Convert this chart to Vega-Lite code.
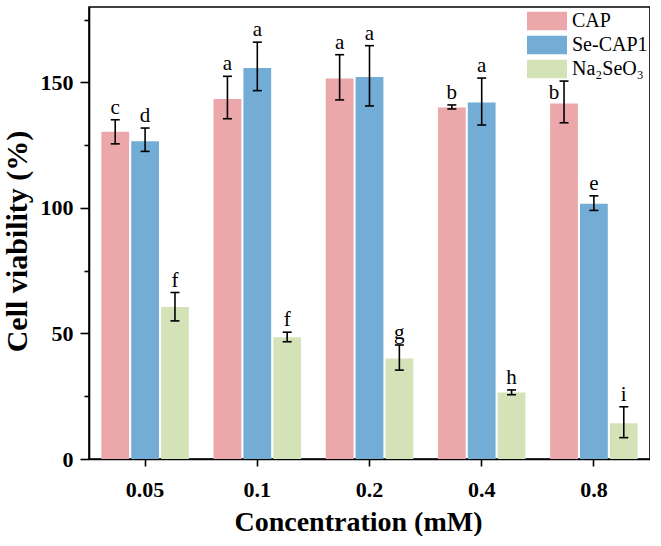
{
  "$schema": "https://vega.github.io/schema/vega-lite/v6.json",
  "width": 561,
  "height": 452,
  "padding": {"left": 2, "top": 7, "right": 0, "bottom": 0},
  "background": "white",
  "data": {
    "values": [
      {"conc": "0.05", "sample": "CAP", "viability": 130.3, "lo": 125.5, "hi": 135.1, "letter": "c"},
      {"conc": "0.1", "sample": "CAP", "viability": 143.4, "lo": 135.5, "hi": 152.4, "letter": "a"},
      {"conc": "0.2", "sample": "CAP", "viability": 151.5, "lo": 143.0, "hi": 161.0, "letter": "a"},
      {"conc": "0.4", "sample": "CAP", "viability": 140.0, "lo": 139.4, "hi": 141.0, "letter": "b"},
      {"conc": "0.8", "sample": "CAP", "viability": 141.6, "lo": 133.9, "hi": 150.5, "letter": "b"},
      {"conc": "0.05", "sample": "Se-CAP1", "viability": 126.5, "lo": 122.5, "hi": 131.8, "letter": "d"},
      {"conc": "0.1", "sample": "Se-CAP1", "viability": 155.7, "lo": 146.7, "hi": 166.0, "letter": "a"},
      {"conc": "0.2", "sample": "Se-CAP1", "viability": 152.1, "lo": 140.6, "hi": 164.6, "letter": "a"},
      {"conc": "0.4", "sample": "Se-CAP1", "viability": 142.0, "lo": 133.0, "hi": 151.7, "letter": "a"},
      {"conc": "0.8", "sample": "Se-CAP1", "viability": 101.6, "lo": 99.0, "hi": 104.8, "letter": "e"},
      {"conc": "0.05", "sample": "Na₂SeO₃", "viability": 60.5, "lo": 55.0, "hi": 66.3, "letter": "f"},
      {"conc": "0.1", "sample": "Na₂SeO₃", "viability": 48.5, "lo": 46.7, "hi": 50.5, "letter": "f"},
      {"conc": "0.2", "sample": "Na₂SeO₃", "viability": 40.0, "lo": 35.4, "hi": 45.4, "letter": "g"},
      {"conc": "0.4", "sample": "Na₂SeO₃", "viability": 26.5, "lo": 25.6, "hi": 27.5, "letter": "h"},
      {"conc": "0.8", "sample": "Na₂SeO₃", "viability": 14.2, "lo": 8.5, "hi": 20.8, "letter": "i"}
    ]
  },
  "encoding": {
    "x": {
      "field": "conc", "type": "nominal",
      "sort": ["0.05", "0.1", "0.2", "0.4", "0.8"],
      "scale": {"paddingInner": 0.22, "paddingOuter": 0.11},
      "axis": {
        "title": "Concentration (mM)",
        "labelAngle": 0,
        "tickSize": 7,
        "labelPadding": 13,
        "titlePadding": 8,
        "titleFontSize": 28,
        "titleX": 269
      }
    },
    "xOffset": {
      "field": "sample", "type": "nominal",
      "sort": ["CAP", "Se-CAP1", "Na₂SeO₃"],
      "scale": {"paddingInner": 0.07, "paddingOuter": 0}
    }
  },
  "layer": [
    {
      "mark": {"type": "bar"},
      "encoding": {
        "y": {
          "field": "viability", "type": "quantitative",
          "scale": {"domain": [0, 180], "nice": false},
          "axis": {
            "title": "Cell viability (%)",
            "values": [0, 25, 50, 75, 100, 125, 150, 175],
            "labelExpr": "datum.value % 50 === 0 ? datum.label : ''",
            "tickSize": {"condition": {"test": "datum.value % 50 === 0", "value": 9}, "value": 5},
            "labelPadding": 7,
            "titlePadding": 8,
            "titleFontSize": 30,
            "titleY": 234
          }
        },
        "color": {
          "field": "sample", "type": "nominal",
          "sort": ["CAP", "Se-CAP1", "Na₂SeO₃"],
          "scale": {"domain": ["CAP", "Se-CAP1", "Na₂SeO₃"], "range": ["#EBA7A9", "#73ADD5", "#D4E3B7"]},
          "legend": {
            "title": null,
            "orient": "none",
            "legendX": 438,
            "legendY": 4,
            "padding": 0,
            "symbolType": "M-1,-0.93H3V0.93H-1Z",
            "symbolSize": 400,
            "symbolStrokeWidth": 0,
            "symbolOpacity": 1,
            "labelFont": "Liberation Serif",
            "labelFontSize": 20,
            "labelColor": "black",
            "labelOffset": 25,
            "rowPadding": 4
          }
        }
      }
    },
    {
      "mark": {"type": "rule", "color": "black", "strokeWidth": 1.6},
      "encoding": {
        "y": {"field": "lo", "type": "quantitative"},
        "y2": {"field": "hi"}
      }
    },
    {
      "mark": {"type": "tick", "color": "black", "thickness": 1.6, "size": 9, "opacity": 1},
      "encoding": {"y": {"field": "lo", "type": "quantitative"}}
    },
    {
      "mark": {"type": "tick", "color": "black", "thickness": 1.6, "size": 9, "opacity": 1},
      "encoding": {"y": {"field": "hi", "type": "quantitative"}}
    },
    {
      "transform": [{"filter": "!(datum.conc === '0.8' && datum.sample === 'CAP')"}],
      "mark": {"type": "text", "font": "Liberation Serif", "fontSize": 21, "color": "black", "baseline": "alphabetic", "dy": -6},
      "encoding": {
        "y": {"field": "hi", "type": "quantitative"},
        "text": {"field": "letter"}
      }
    },
    {
      "transform": [{"filter": "datum.conc === '0.8' && datum.sample === 'CAP'"}],
      "mark": {"type": "text", "font": "Liberation Serif", "fontSize": 21, "color": "black", "baseline": "alphabetic", "dx": -10, "dy": -4},
      "encoding": {
        "y": {"field": "viability", "type": "quantitative"},
        "text": {"field": "letter"}
      }
    }
  ],
  "config": {
    "view": {"stroke": "black", "strokeWidth": 1.6},
    "axis": {
      "grid": false,
      "domainColor": "black",
      "domainWidth": 1.6,
      "tickColor": "black",
      "tickWidth": 1.6,
      "labelFont": "Liberation Serif",
      "labelFontWeight": "bold",
      "labelFontSize": 22,
      "labelColor": "black",
      "titleFont": "Liberation Serif",
      "titleFontWeight": "bold",
      "titleColor": "black"
    }
  }
}
